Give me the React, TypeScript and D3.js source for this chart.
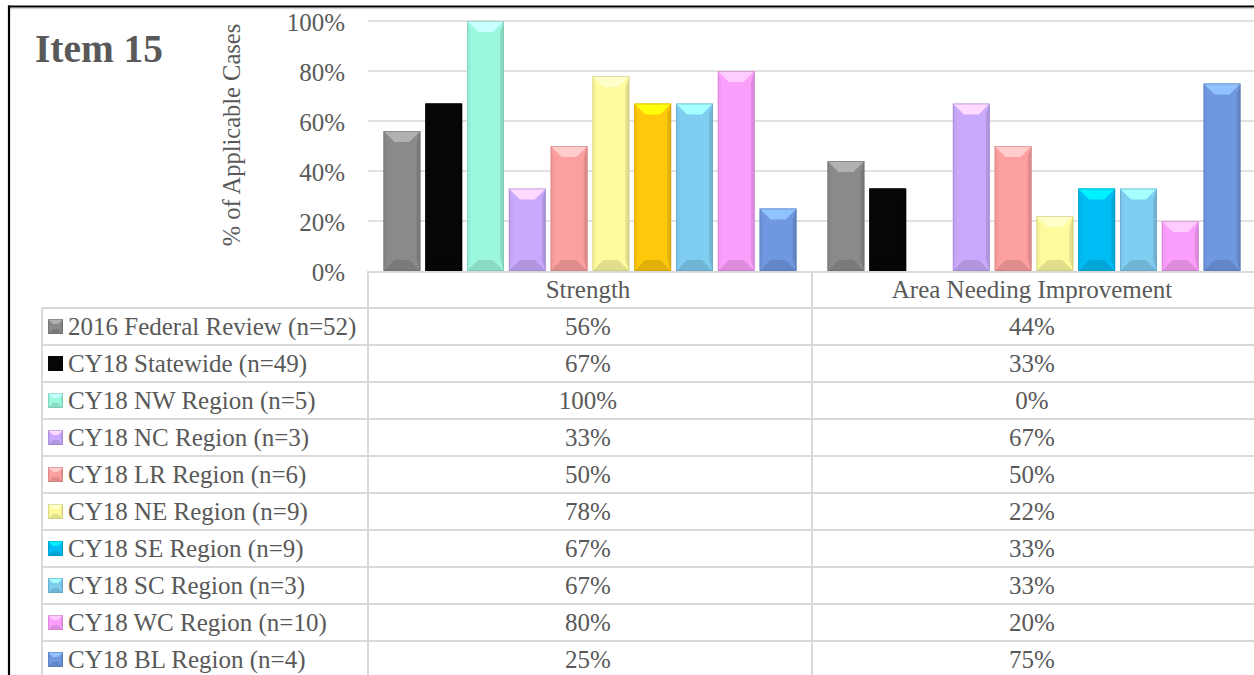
import React from "react";
import * as d3 from "d3";

const categories = ["Strength", "Area Needing Improvement"];
const seriesNames = [
  "2016 Federal Review (n=52)",
  "CY18 Statewide (n=49)",
  "CY18 NW Region (n=5)",
  "CY18 NC Region (n=3)",
  "CY18 LR Region (n=6)",
  "CY18 NE Region (n=9)",
  "CY18 SE Region (n=9)",
  "CY18 SC Region (n=3)",
  "CY18 WC Region (n=10)",
  "CY18 BL Region (n=4)",
];
const strengthValues = [56, 67, 100, 33, 50, 78, 67, 67, 80, 25];
const improvementValues = [44, 33, 0, 67, 50, 22, 33, 33, 20, 75];
const seriesColors = [
  "#8a8a8a",
  "#060606",
  "#9cf7df",
  "#c8a9fc",
  "#fc9f9f",
  "#fdfb9d",
  "#00bcf5",
  "#80cdf2",
  "#fc9ffc",
  "#7098e0",
];
// point-level colour override seen in the reference (Strength / SE bar)
const pointColorOverrides = [{ category: "Strength", series: 6, color: "#ffc80a" }];
const yTicks = [0, 20, 40, 60, 80, 100];

const W = 1254;
const H = 675;
const FONT = "'Liberation Serif', 'Times New Roman', serif";
const TEXT = "#595959";
const GRID = "#d9d9d9";

const plotLeft = 368;
const plotRight = 1256;
const plotTop = 21;
const plotBottom = 271;
const tableLeft = 42;
const headerTop = 272;
const rowTop0 = 308;
const rowH = 37;

function Bevel({ x, y, w, h, color, b }: { x: number; y: number; w: number; h: number; color: string; b: number }) {
  if (h < 1) return null;
  const c = d3.color(color)!;
  const bb = Math.min(b, h / 2, w / 2);
  const light = c.brighter(0.7).formatHex();
  const dark = c.darker(0.35).formatHex();
  const darker = c.darker(0.8).formatHex();
  const side = c.darker(0.15).formatHex();
  return (
    <g>
      <rect x={x} y={y} width={w} height={h} fill={color} />
      <polygon points={`${x},${y} ${x + w},${y} ${x + w - bb},${y + bb} ${x + bb},${y + bb}`} fill={light} />
      <polygon points={`${x},${y + h} ${x + w},${y + h} ${x + w - bb},${y + h - bb} ${x + bb},${y + h - bb}`} fill={dark} />
      <polygon points={`${x},${y} ${x + bb * 0.35},${y + bb} ${x + bb * 0.35},${y + h - bb} ${x},${y + h}`} fill={side} opacity={0.6} />
      <polygon points={`${x + w},${y} ${x + w - bb * 0.35},${y + bb} ${x + w - bb * 0.35},${y + h - bb} ${x + w},${y + h}`} fill={darker} opacity={0.45} />
      <rect x={x + 0.5} y={y + 0.5} width={w - 1} height={h - 1} fill="none" stroke={darker} strokeOpacity={0.5} strokeWidth={1} />
    </g>
  );
}

export default function App() {
  const x0 = d3.scaleBand<string>().domain(categories).range([plotLeft, plotRight]).padding(0);
  const x1 = d3
    .scaleBand<number>()
    .domain(d3.range(seriesNames.length))
    .range([0, x0.bandwidth()])
    .paddingInner(0.117)
    .paddingOuter(0.371);
  const y = d3.scaleLinear().domain([0, 100]).range([plotBottom, plotTop]);
  const valuesByCat: Record<string, number[]> = {
    [categories[0]]: strengthValues,
    [categories[1]]: improvementValues,
  };
  const colorFor = (cat: string, i: number) => {
    const o = pointColorOverrides.find((p) => p.category === cat && p.series === i);
    return o ? o.color : seriesColors[i];
  };
  const fmt = (v: number) => `${v}%`;
  const tableBottom = rowTop0 + rowH * seriesNames.length;
  const colEdges = [plotLeft, ...categories.map((c) => (x0(c) as number) + x0.bandwidth())];

  return (
    <div style={{ position: "absolute", left: 0, top: 0 }}>
      <svg width={W} height={H} style={{ display: "block", overflow: "hidden" }} fontFamily={FONT}>
        <rect x={0} y={0} width={W} height={H} fill="#fff" />
        {/* outer frame */}
        <line x1={8} x2={W} y1={6.5} y2={6.5} stroke="#000" strokeWidth={2} />
        <line x1={10} x2={W} y1={8.7} y2={8.7} stroke="#cfcfcf" strokeWidth={1} />
        <line x1={9} x2={9} y1={5.5} y2={H} stroke="#000" strokeWidth={2.2} />

        {/* title */}
        <text x={35} y={62} fontSize={40} fontWeight="bold" fill={TEXT} textLength={128} lengthAdjust="spacingAndGlyphs">
          Item 15
        </text>

        {/* y axis title */}
        <text
          transform={`translate(240,135) rotate(-90)`}
          textAnchor="middle"
          fontSize={24.5}
          fill={TEXT}
        >
          % of Applicable Cases
        </text>

        {/* gridlines and tick labels */}
        {yTicks.map((t) => (
          <g key={t}>
            {t > 0 && <line x1={plotLeft} x2={W} y1={y(t)} y2={y(t)} stroke={GRID} strokeWidth={1.4} />}
            <text x={345} y={y(t) + 10} textAnchor="end" fontSize={25} fill={TEXT}>
              {fmt(t)}
            </text>
          </g>
        ))}

        {/* bars */}
        {categories.map((cat) =>
          valuesByCat[cat].map((v, i) => {
            const bx = (x0(cat) as number) + (x1(i) as number);
            const by = y(v);
            return (
              <Bevel
                key={cat + i}
                x={bx}
                y={by}
                w={x1.bandwidth()}
                h={plotBottom - by}
                color={colorFor(cat, i)}
                b={11}
              />
            );
          })
        )}

        {/* data table */}
        <g stroke={GRID} strokeWidth={2}>
          <line x1={plotLeft} x2={W + 5} y1={headerTop} y2={headerTop} />
          {d3.range(seriesNames.length + 1).map((r) => (
            <line key={r} x1={tableLeft} x2={W + 5} y1={rowTop0 + r * rowH} y2={rowTop0 + r * rowH} />
          ))}
          <line x1={tableLeft} x2={tableLeft} y1={rowTop0} y2={tableBottom} />
          {colEdges.map((cx, k) => (
            <line key={k} x1={cx} x2={cx} y1={headerTop - 1} y2={tableBottom} />
          ))}
        </g>
        {categories.map((cat) => (
          <text
            key={cat}
            x={(x0(cat) as number) + x0.bandwidth() / 2 - 2}
            y={headerTop + 26}
            textAnchor="middle"
            fontSize={25}
            fill={TEXT}
          >
            {cat}
          </text>
        ))}
        {seriesNames.map((name, i) => {
          const rt = rowTop0 + i * rowH;
          const cy = rt + rowH / 2;
          return (
            <g key={name}>
              <Bevel x={48} y={cy - 7.5} w={15} h={15} color={seriesColors[i]} b={5} />
              <text x={68} y={rt + 26.5} fontSize={25} fill={TEXT}>
                {name}
              </text>
              {categories.map((cat) => (
                <text
                  key={cat}
                  x={(x0(cat) as number) + x0.bandwidth() / 2 - 2}
                  y={rt + 26.5}
                  textAnchor="middle"
                  fontSize={25}
                  fill={TEXT}
                >
                  {fmt(valuesByCat[cat][i])}
                </text>
              ))}
            </g>
          );
        })}
      </svg>
    </div>
  );
}
